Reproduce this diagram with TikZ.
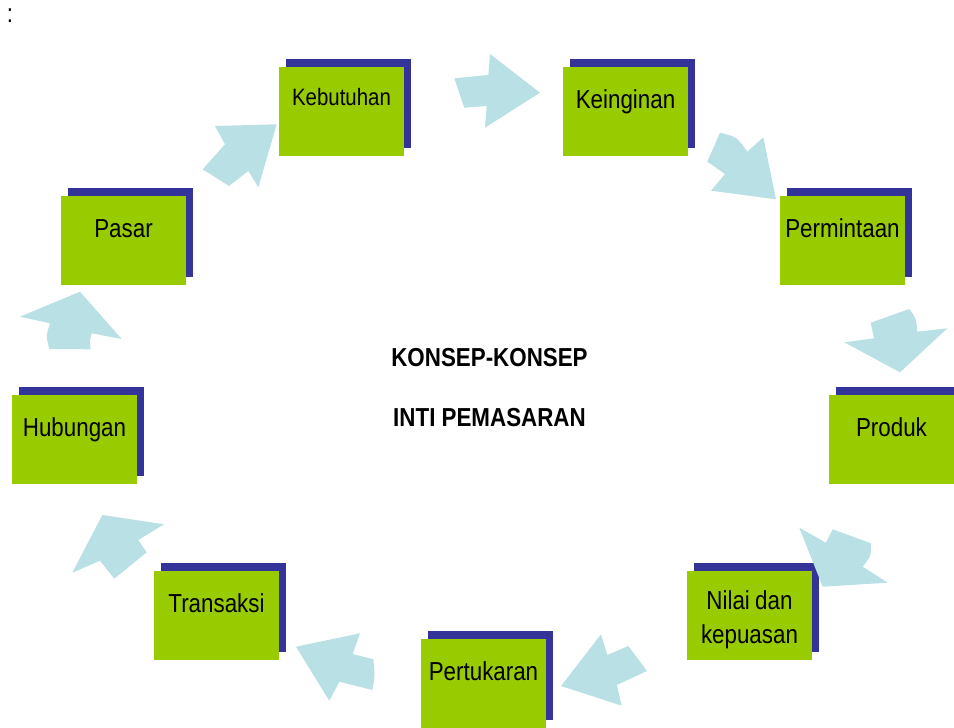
\documentclass[tikz,border=0pt]{standalone}
\usepackage{fontspec}
\setmainfont{Liberation Sans}
\newfontfamily\lbl[FakeStretch=0.86]{Liberation Sans}
\usetikzlibrary{shadows}
\definecolor{boxgreen}{RGB}{153,204,0}
\definecolor{shadownavy}{RGB}{51,51,153}
\definecolor{arrowblue}{RGB}{185,224,228}
\begin{document}
\begin{tikzpicture}[x=0.75pt,y=-0.75pt,
  concept/.style={fill=boxgreen, anchor=north west, inner sep=0pt, outer sep=0pt,
     minimum width=93.75pt, text width=93.75pt, align=center,
     text height=30.75pt, text depth=36pt,
     font=\lbl\fontsize{19.5}{25.5}\selectfont,
     general shadow={fill=shadownavy, shadow xshift=5.6pt, shadow yshift=5.8pt}},
  smallconcept/.style={concept, text height=28.5pt, text depth=38.25pt,
     font=\lbl\fontsize{17.8}{23}\selectfont},
  twoline/.style={concept, text height=28.5pt, text depth=38.25pt},
  titletext/.style={anchor=base, inner sep=0pt, font=\lbl\bfseries\fontsize{19.5}{24}\selectfont},
  blockarrow/.style={fill=arrowblue}]
\useasboundingbox (0,0) rectangle (954,728);

% colon
\node[anchor=base, inner sep=0pt, font=\lbl\fontsize{19.5}{24}\selectfont] (colon) at (10,22.5) {:};

% concept boxes
\node[smallconcept] (kebutuhan) at (279,67) {Kebutuhan};
\node[concept] (keinginan) at (563,67) {Keinginan};
\node[concept] (permintaan) at (780,196) {Permintaan};
\node[concept] (produk) at (829,395) {Produk};
\node[twoline] (nilai) at (687,571) {Nilai\hspace{4pt}dan\\kepuasan};
\node[concept] (pertukaran) at (421,639) {Pertukaran};
\node[concept] (transaksi) at (154,571) {Transaksi};
\node[concept] (hubungan) at (12,395) {Hubungan};
\node[concept] (pasar) at (61,196) {Pasar};

% title
\node[titletext] (title1) at (489.5,366) {KONSEP-KONSEP};
\node[titletext] (title2) at (489.5,426.7) {INTI PEMASARAN};

% block arrows
% Kebutuhan -> Keinginan
\fill[blockarrow] (454.3,78.3) -- (488.3,75) -- (490,54) -- (540,92.7) -- (485,127.7) -- (486.7,106) -- (464.3,107.7) -- cycle;
% Keinginan -> Permintaan
\fill[blockarrow] (720,132.7) .. controls (737,137) .. (747.3,151.7) -- (763.3,137.3) -- (776,199.3) -- (711,190.7) -- (725,174) -- (707.3,161.7) -- cycle;
% Permintaan -> Produk
\fill[blockarrow] (870.7,322.7) -- (909.3,309) .. controls (916,318) .. (917.3,331.7) -- (947.3,328.3) -- (900,372.3) -- (844.3,342.3) -- (874,338.3) -- cycle;
% Produk -> Nilai
\fill[blockarrow] (799.3,527.7) -- (826,542.7) -- (832.7,529.3) -- (871,543.3) .. controls (871,556) .. (862.7,566.7) -- (887.7,582.7) -- (822.7,586.7) -- cycle;
% Nilai -> Pertukaran
\fill[blockarrow] (601,634.3) -- (607.3,655) -- (628.3,646) -- (647,671) -- (616.7,685) -- (621.7,705.7) -- (561,686) -- cycle;
% Pertukaran -> Transaksi
\fill[blockarrow] (360,633.3) -- (352.7,654) -- (373.3,659.3) .. controls (375,675) .. (372.3,690) -- (339.3,681.7) -- (329.3,700.7) -- (296,646.7) -- cycle;
% Transaksi -> Hubungan
\fill[blockarrow] (102.3,515) -- (164,524.3) -- (138.3,540) -- (146.7,552.3) -- (114.3,578.7) -- (100,560.7) -- (72.3,572.7) -- cycle;
% Hubungan -> Pasar
\fill[blockarrow] (80,291.7) -- (121.7,339) -- (91.7,333.3) .. controls (89.5,341) .. (90.7,349.3) -- (49.3,349) .. controls (46,336) .. (50,323.3) -- (20,316.7) -- cycle;
% Pasar -> Kebutuhan
\fill[blockarrow] (276.7,124.3) -- (258.3,187.3) -- (248.3,171) -- (229,186) -- (202.7,169.3) -- (225,144.3) -- (215,126) -- cycle;
\end{tikzpicture}
\end{document}
